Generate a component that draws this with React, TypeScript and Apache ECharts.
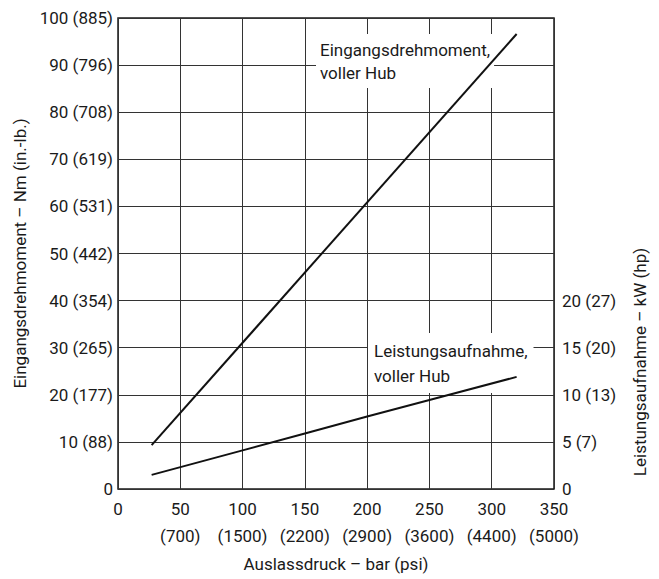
import React, { useEffect, useRef } from "react";
import * as echarts from "echarts";

// Outlet pressure in bar, tick values and matching psi labels
const pressureTicks = [0, 50, 100, 150, 200, 250, 300, 350];
const psiLabels = ["", "700", "1500", "2200", "2900", "3600", "4400", "5000"];

// Input torque axis: Nm ticks with in.-lb. equivalents
const torqueTicks = [0, 10, 20, 30, 40, 50, 60, 70, 80, 90, 100];
const inLbLabels = ["", "88", "177", "265", "354", "442", "531", "619", "708", "796", "885"];

// Power input axis: kW ticks with hp equivalents
const powerTicks = [0, 5, 10, 15, 20];
const hpLabels = ["", "7", "13", "20", "27"];

// Input torque at full stroke (Nm)
const torquePressure = [27, 320];
const torqueValues = [9.3, 96.6];

// Power input at full stroke (kW)
const powerPressure = [27, 100, 150, 200, 250, 320];
const powerValues = [1.5, 4.1, 5.9, 7.7, 9.45, 11.9];

const FONT = "Roboto, 'Liberation Sans', sans-serif";
const INK = "#1a1a1a";

export default function App() {
  const ref = useRef<HTMLDivElement>(null);

  useEffect(() => {
    document.body.style.margin = "0";
    if (!ref.current) return;
    const chart = echarts.init(ref.current, null, { renderer: "svg" });

    const labelFor = (ticks: number[], extra: string[], v: number) => {
      const i = ticks.indexOf(v);
      if (i < 0) return "";
      return extra[i] ? `${v} (${extra[i]})` : `${v}`;
    };

    chart.setOption({
      animation: false,
      backgroundColor: "#ffffff",
      textStyle: { fontFamily: FONT, color: INK },
      grid: {
        left: 118,
        right: 105,
        top: 18,
        bottom: 90,
        show: true,
        borderColor: INK,
        borderWidth: 1.5,
        backgroundColor: "transparent",
      },
      xAxis: {
        type: "value",
        min: 0,
        max: 350,
        interval: 50,
        name: "Auslassdruck – bar (psi)",
        nameLocation: "middle",
        nameGap: 66,
        nameTextStyle: { fontSize: 17, color: INK, fontFamily: FONT },
        axisLine: { show: false },
        axisTick: { show: false },
        splitLine: { show: true, lineStyle: { color: "#333", width: 1 } },
        axisLabel: {
          fontSize: 17,
          lineHeight: 27,
          margin: 6,
          color: INK,
          fontFamily: FONT,
          formatter: (v: number) => {
            const i = pressureTicks.indexOf(v);
            if (i < 0) return "";
            return psiLabels[i] ? `${v}\n(${psiLabels[i]})` : `${v}`;
          },
        },
      },
      yAxis: [
        {
          type: "value",
          min: 0,
          max: 100,
          interval: 10,
          name: "Eingangsdrehmoment – Nm (in.-lb.)",
          nameLocation: "middle",
          nameGap: 88,
          nameTextStyle: { fontSize: 17, color: INK, fontFamily: FONT },
          axisLine: { show: false },
          axisTick: { show: false },
          splitLine: { show: true, lineStyle: { color: "#333", width: 1 } },
          axisLabel: {
            fontSize: 17,
            margin: 5,
            color: INK,
            fontFamily: FONT,
            formatter: (v: number) => labelFor(torqueTicks, inLbLabels, v),
          },
        },
        {
          type: "value",
          min: 0,
          max: 50,
          interval: 5,
          position: "right",
          axisLine: { show: false },
          axisTick: { show: false },
          splitLine: { show: false },
          axisLabel: {
            fontSize: 17,
            margin: 8,
            color: INK,
            fontFamily: FONT,
            formatter: (v: number) => labelFor(powerTicks, hpLabels, v),
          },
        },
      ],
      graphic: [
        {
          type: "text",
          left: 316,
          top: 34,
          z: 1,
          style: {
            text: "Eingangsdrehmoment,\nvoller Hub",
            font: `17px ${FONT}`,
            fill: INK,
            lineHeight: 23,
            backgroundColor: "#ffffff",
            padding: [4, 4, 4, 4],
          },
        },
        {
          type: "text",
          left: 368,
          top: 333,
          z: 1,
          style: {
            text: "Leistungsaufnahme,\nvoller Hub",
            font: `17px ${FONT}`,
            fill: INK,
            lineHeight: 25,
            backgroundColor: "#ffffff",
            padding: [5, 6, 5, 6],
          },
        },
        {
          type: "text",
          x: 640,
          y: 362,
          rotation: Math.PI / 2,
          style: {
            text: "Leistungsaufnahme – kW (hp)",
            font: `17px ${FONT}`,
            fill: INK,
            align: "center",
            verticalAlign: "middle",
          },
        },
      ],
      series: [
        {
          name: "Eingangsdrehmoment, voller Hub",
          type: "line",
          yAxisIndex: 0,
          data: torquePressure.map((p, i) => [p, torqueValues[i]]),
          showSymbol: false,
          symbol: "none",
          z: 3,
          lineStyle: { color: "#111", width: 2 },
        },
        {
          name: "Leistungsaufnahme, voller Hub",
          type: "line",
          yAxisIndex: 1,
          data: powerPressure.map((p, i) => [p, powerValues[i]]),
          showSymbol: false,
          symbol: "none",
          z: 3,
          lineStyle: { color: "#111", width: 2 },
        },
      ],
    });

    return () => chart.dispose();
  }, []);

  return <div ref={ref} style={{ width: 659, height: 579 }} />;
}
